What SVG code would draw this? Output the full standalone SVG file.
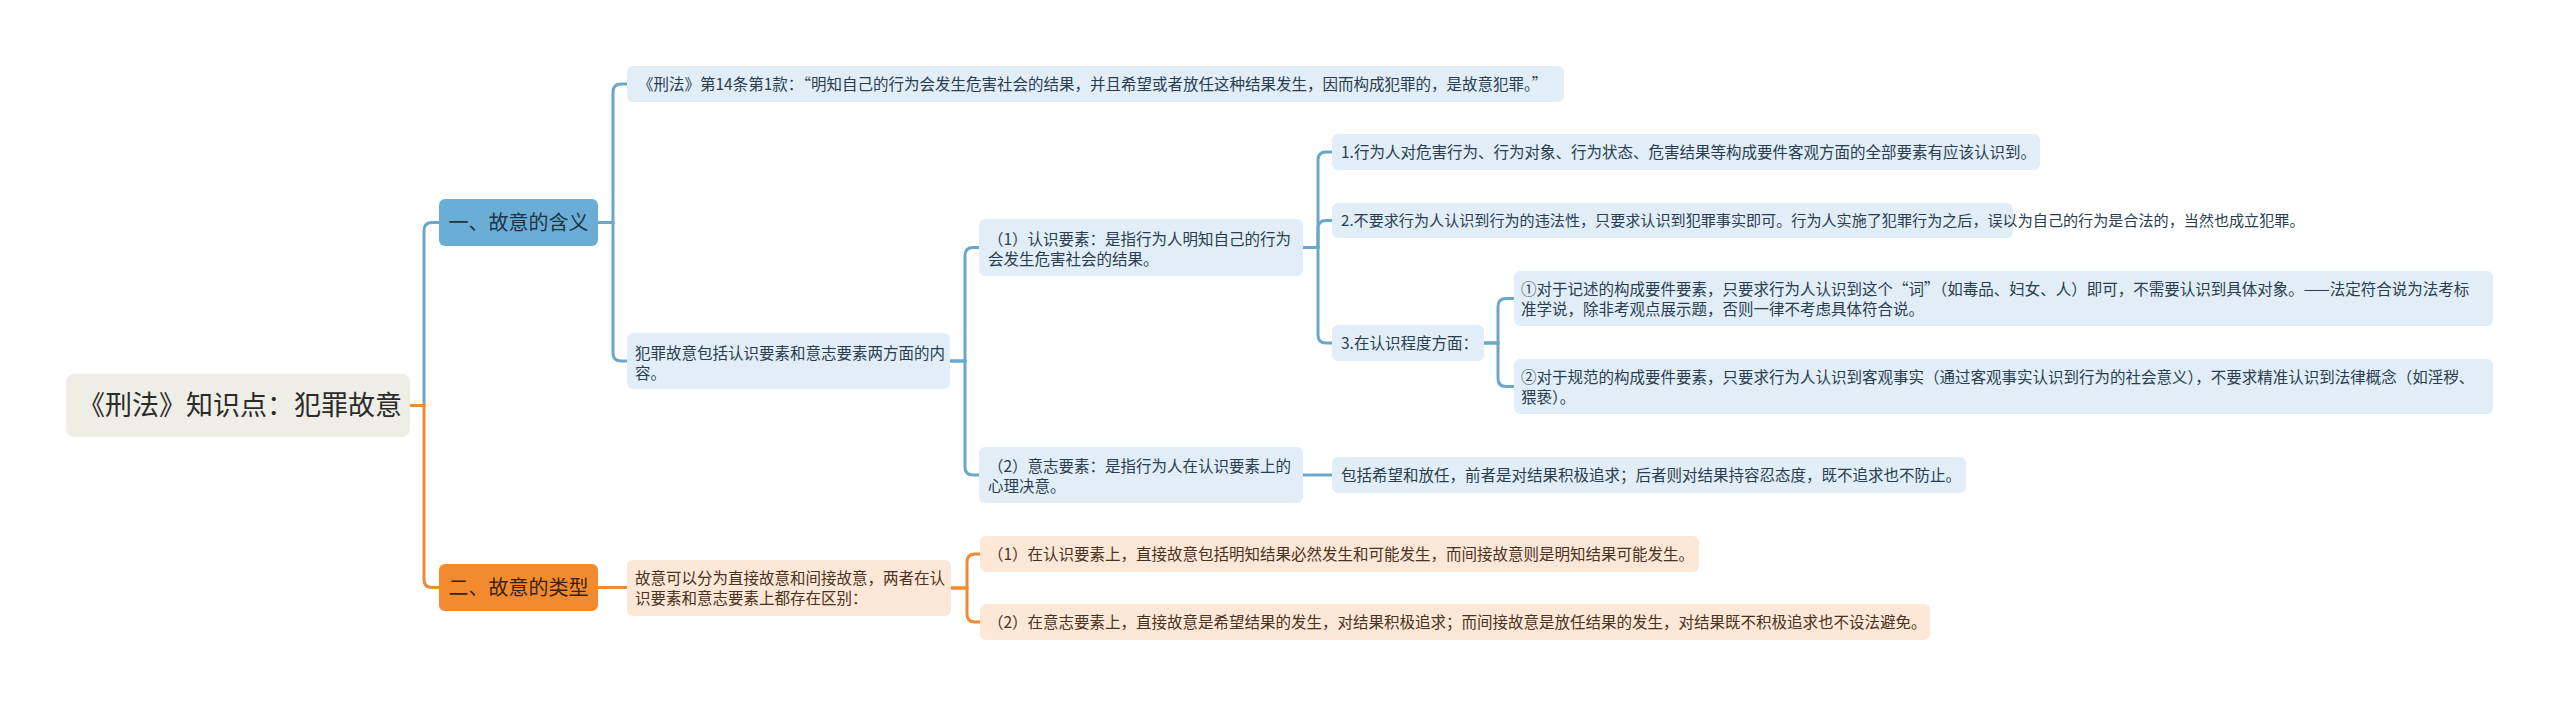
<svg xmlns="http://www.w3.org/2000/svg" width="2560" height="706" viewBox="0 0 2560 706">
<style>
.t{font-family:"Noto Sans CJK SC","Noto Sans",sans-serif;}
.s{font-size:15.5px;fill:#2a3d4f;}
.so{font-size:15.5px;fill:#4a321f;}
.lb{fill:#e1eef7;}
.lo{fill:#fde7d6;}
.cb{fill:none;stroke:#6aa8cb;stroke-width:3;}
.co{fill:none;stroke:#ef8a33;stroke-width:3;}
</style>
<rect width="2560" height="706" fill="#ffffff"/>
<g id="connectors">
<path class="cb" d="M410,405.5 H424 V230.5 Q424,222.5 432,222.5 H439"/>
<path class="co" d="M410,405.5 H424 V579.5 Q424,587.5 432,587.5 H439"/>
<path class="cb" d="M598,222.5 H613 V92 Q613,84 621,84 H627"/>
<path class="cb" d="M598,222.5 H613 V353 Q613,361 621,361 H627"/>
<path class="cb" d="M950,361 H965 V255.5 Q965,247.5 973,247.5 H979"/>
<path class="cb" d="M950,361 H965 V467 Q965,475 973,475 H979"/>
<path class="cb" d="M1303,247.5 H1318 V160 Q1318,152 1326,152 H1332"/>
<path class="cb" d="M1303,247.5 H1318 V228.5 Q1318,220.5 1326,220.5 H1332"/>
<path class="cb" d="M1303,247.5 H1318 V335 Q1318,343 1326,343 H1332"/>
<path class="cb" d="M1484,343 H1498 V306.5 Q1498,298.5 1506,298.5 H1514"/>
<path class="cb" d="M1484,343 H1498 V378.5 Q1498,386.5 1506,386.5 H1514"/>
<path class="cb" d="M1303,475 H1332"/>
<path class="co" d="M598,587.5 H627"/>
<path class="co" d="M951,588 H967 V562 Q967,554 975,554 H980"/>
<path class="co" d="M951,588 H967 V614 Q967,622 975,622 H980"/>
</g>
<g id="root">
<rect x="66" y="374" width="344" height="63" rx="8" fill="#eeeee6"/>
<text class="t" x="240" y="414.5" font-size="27" fill="#2b2b2b" text-anchor="middle">《刑法》知识点：犯罪故意</text>
</g>
<g id="b1">
<rect x="439" y="199" width="159" height="47" rx="6" fill="#6aaed6"/>
<text class="t" x="518.5" y="229.5" font-size="20" fill="#1e3446" text-anchor="middle">一、故意的含义</text>
</g>
<g id="b2">
<rect x="439" y="564" width="159" height="47" rx="6" fill="#f28a30"/>
<text class="t" x="518.5" y="594.5" font-size="20" fill="#3a2313" text-anchor="middle">二、故意的类型</text>
</g>
<g id="nA">
<rect class="lb" x="627" y="66" width="937" height="36" rx="6"/>
<text class="t s" x="638" y="89.5">《刑法》第14条第1款：“明知自己的行为会发生危害社会的结果，并且希望或者放任这种结果发生，因而构成犯罪的，是故意犯罪。”</text>
</g>
<g id="nC">
<rect class="lb" x="627" y="333" width="323" height="56" rx="6"/>
<text class="t s" x="635" y="358.5">犯罪故意包括认识要素和意志要素两方面的内</text>
<text class="t s" x="635" y="378.5">容。</text>
</g>
<g id="nD1">
<rect class="lb" x="979" y="219" width="324" height="57" rx="6"/>
<text class="t s" x="988" y="244.5">（1）认识要素：是指行为人明知自己的行为</text>
<text class="t s" x="988" y="264.5">会发生危害社会的结果。</text>
</g>
<g id="nD2">
<rect class="lb" x="979" y="447" width="324" height="56" rx="6"/>
<text class="t s" x="988" y="472">（2）意志要素：是指行为人在认识要素上的</text>
<text class="t s" x="988" y="492">心理决意。</text>
</g>
<g id="nE1">
<rect class="lb" x="1332" y="134" width="708" height="36" rx="6"/>
<text class="t s" x="1341" y="157.5">1.行为人对危害行为、行为对象、行为状态、危害结果等构成要件客观方面的全部要素有应该认识到。</text>
</g>
<g id="nE2">
<rect class="lb" x="1332" y="203" width="681" height="35" rx="6"/>
<text class="t s" x="1341" y="226" style="font-size:15.1px">2.不要求行为人认识到行为的违法性，只要求认识到犯罪事实即可。行为人实施了犯罪行为之后，误以为自己的行为是合法的，当然也成立犯罪。</text>
</g>
<g id="nE3">
<rect class="lb" x="1332" y="325" width="152" height="36" rx="6"/>
<text class="t s" x="1341" y="348.5">3.在认识程度方面：</text>
</g>
<g id="nF1">
<rect class="lb" x="1514" y="271" width="979" height="55" rx="6"/>
<text class="t s" x="1521" y="294.5">①对于记述的构成要件要素，只要求行为人认识到这个“词”（如毒品、妇女、人）即可，不需要认识到具体对象。——法定符合说为法考标</text>
<text class="t s" x="1521" y="314.5">准学说，除非考观点展示题，否则一律不考虑具体符合说。</text>
</g>
<g id="nF2">
<rect class="lb" x="1514" y="359" width="979" height="55" rx="6"/>
<text class="t s" x="1521" y="382.5">②对于规范的构成要件要素，只要求行为人认识到客观事实（通过客观事实认识到行为的社会意义），不要求精准认识到法律概念（如淫秽、</text>
<text class="t s" x="1521" y="402.5">猥亵）。</text>
</g>
<g id="nG">
<rect class="lb" x="1332" y="457" width="634" height="36" rx="6"/>
<text class="t s" x="1341" y="480.5">包括希望和放任，前者是对结果积极追求；后者则对结果持容忍态度，既不追求也不防止。</text>
</g>
<g id="nH">
<rect class="lo" x="627" y="560" width="324" height="56" rx="6"/>
<text class="t so" x="635" y="584">故意可以分为直接故意和间接故意，两者在认</text>
<text class="t so" x="635" y="604">识要素和意志要素上都存在区别：</text>
</g>
<g id="nI1">
<rect class="lo" x="980" y="536" width="719" height="36" rx="6"/>
<text class="t so" x="988" y="559.5">（1）在认识要素上，直接故意包括明知结果必然发生和可能发生，而间接故意则是明知结果可能发生。</text>
</g>
<g id="nI2">
<rect class="lo" x="980" y="604" width="950" height="36" rx="6"/>
<text class="t so" x="988" y="627.5">（2）在意志要素上，直接故意是希望结果的发生，对结果积极追求；而间接故意是放任结果的发生，对结果既不积极追求也不设法避免。</text>
</g>
</svg>
